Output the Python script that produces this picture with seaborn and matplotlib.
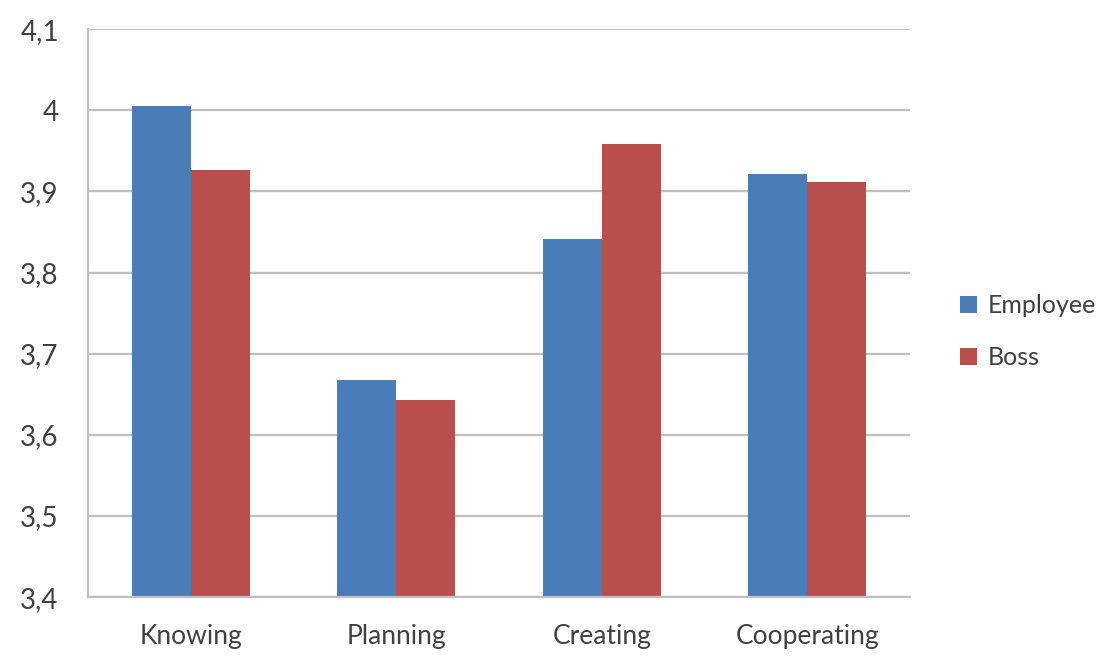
import matplotlib
matplotlib.use("Agg")
import matplotlib.pyplot as plt
import seaborn as sns
import pandas as pd
from matplotlib.patches import Patch
from matplotlib.ticker import FuncFormatter

categories = ["Knowing", "Planning", "Creating", "Cooperating"]
employee = [4.005, 3.668, 3.841, 3.922]
boss = [3.927, 3.643, 3.959, 3.912]
series = ["Employee", "Boss"]
colors = ["#4A7CB8", "#B9504E"]
yticks = [3.4, 3.5, 3.6, 3.7, 3.8, 3.9, 4.0, 4.1]

df = pd.DataFrame({
    "category": categories * 2,
    "value": employee + boss,
    "series": [series[0]] * 4 + [series[1]] * 4,
})

sns.set_style("white")
plt.rcParams["font.family"] = ["Lato", "DejaVu Sans"]

fig = plt.figure(figsize=(11.07, 6.62), dpi=100)
ax = fig.add_axes([0.0795, 0.098, 0.7425, 0.858])

sns.barplot(data=df, x="category", y="value", hue="series", order=categories,
            hue_order=series, palette=colors, width=0.576, ax=ax,
            legend=False, saturation=1, edgecolor="none")

ax.set_ylim(3.4, 4.1)
ax.set_xlim(-0.5, 3.5)
ax.set_yticks(yticks)
ax.yaxis.set_major_formatter(FuncFormatter(lambda v, p: f"{v:g}".replace(".", ",")))
ax.yaxis.grid(True, color="#BFBFBF", linewidth=1.6)
ax.set_axisbelow(True)
ax.set_xlabel("")
ax.set_ylabel("")

for s in ["top", "right"]:
    ax.spines[s].set_visible(False)
for s in ["left", "bottom"]:
    ax.spines[s].set_color("#BFBFBF")
    ax.spines[s].set_linewidth(1.6)

ax.set_xticks(range(len(categories)))
ax.set_xticklabels(categories)
ax.tick_params(axis="x", length=0, labelsize=19, colors="#404040", pad=19)
ax.set_xticks([0.5, 1.5, 2.5, 3.5], minor=True)
ax.tick_params(axis="x", which="minor", length=8, width=1.6, color="#BFBFBF", direction="out")
ax.tick_params(axis="y", length=10, width=1.6, color="#BFBFBF", labelsize=20,
               labelcolor="#404040", pad=11)

handles = [Patch(facecolor=c, edgecolor="none") for c in colors]
fig.legend(handles, series, loc="center left", bbox_to_anchor=(0.867, 0.499),
           frameon=False, fontsize=18, handlelength=0.7, handleheight=0.7,
           handletextpad=0.4, labelspacing=1.15, borderpad=0, borderaxespad=0,
           labelcolor="#404040")

fig.savefig("out.png", dpi=100, facecolor="white")
